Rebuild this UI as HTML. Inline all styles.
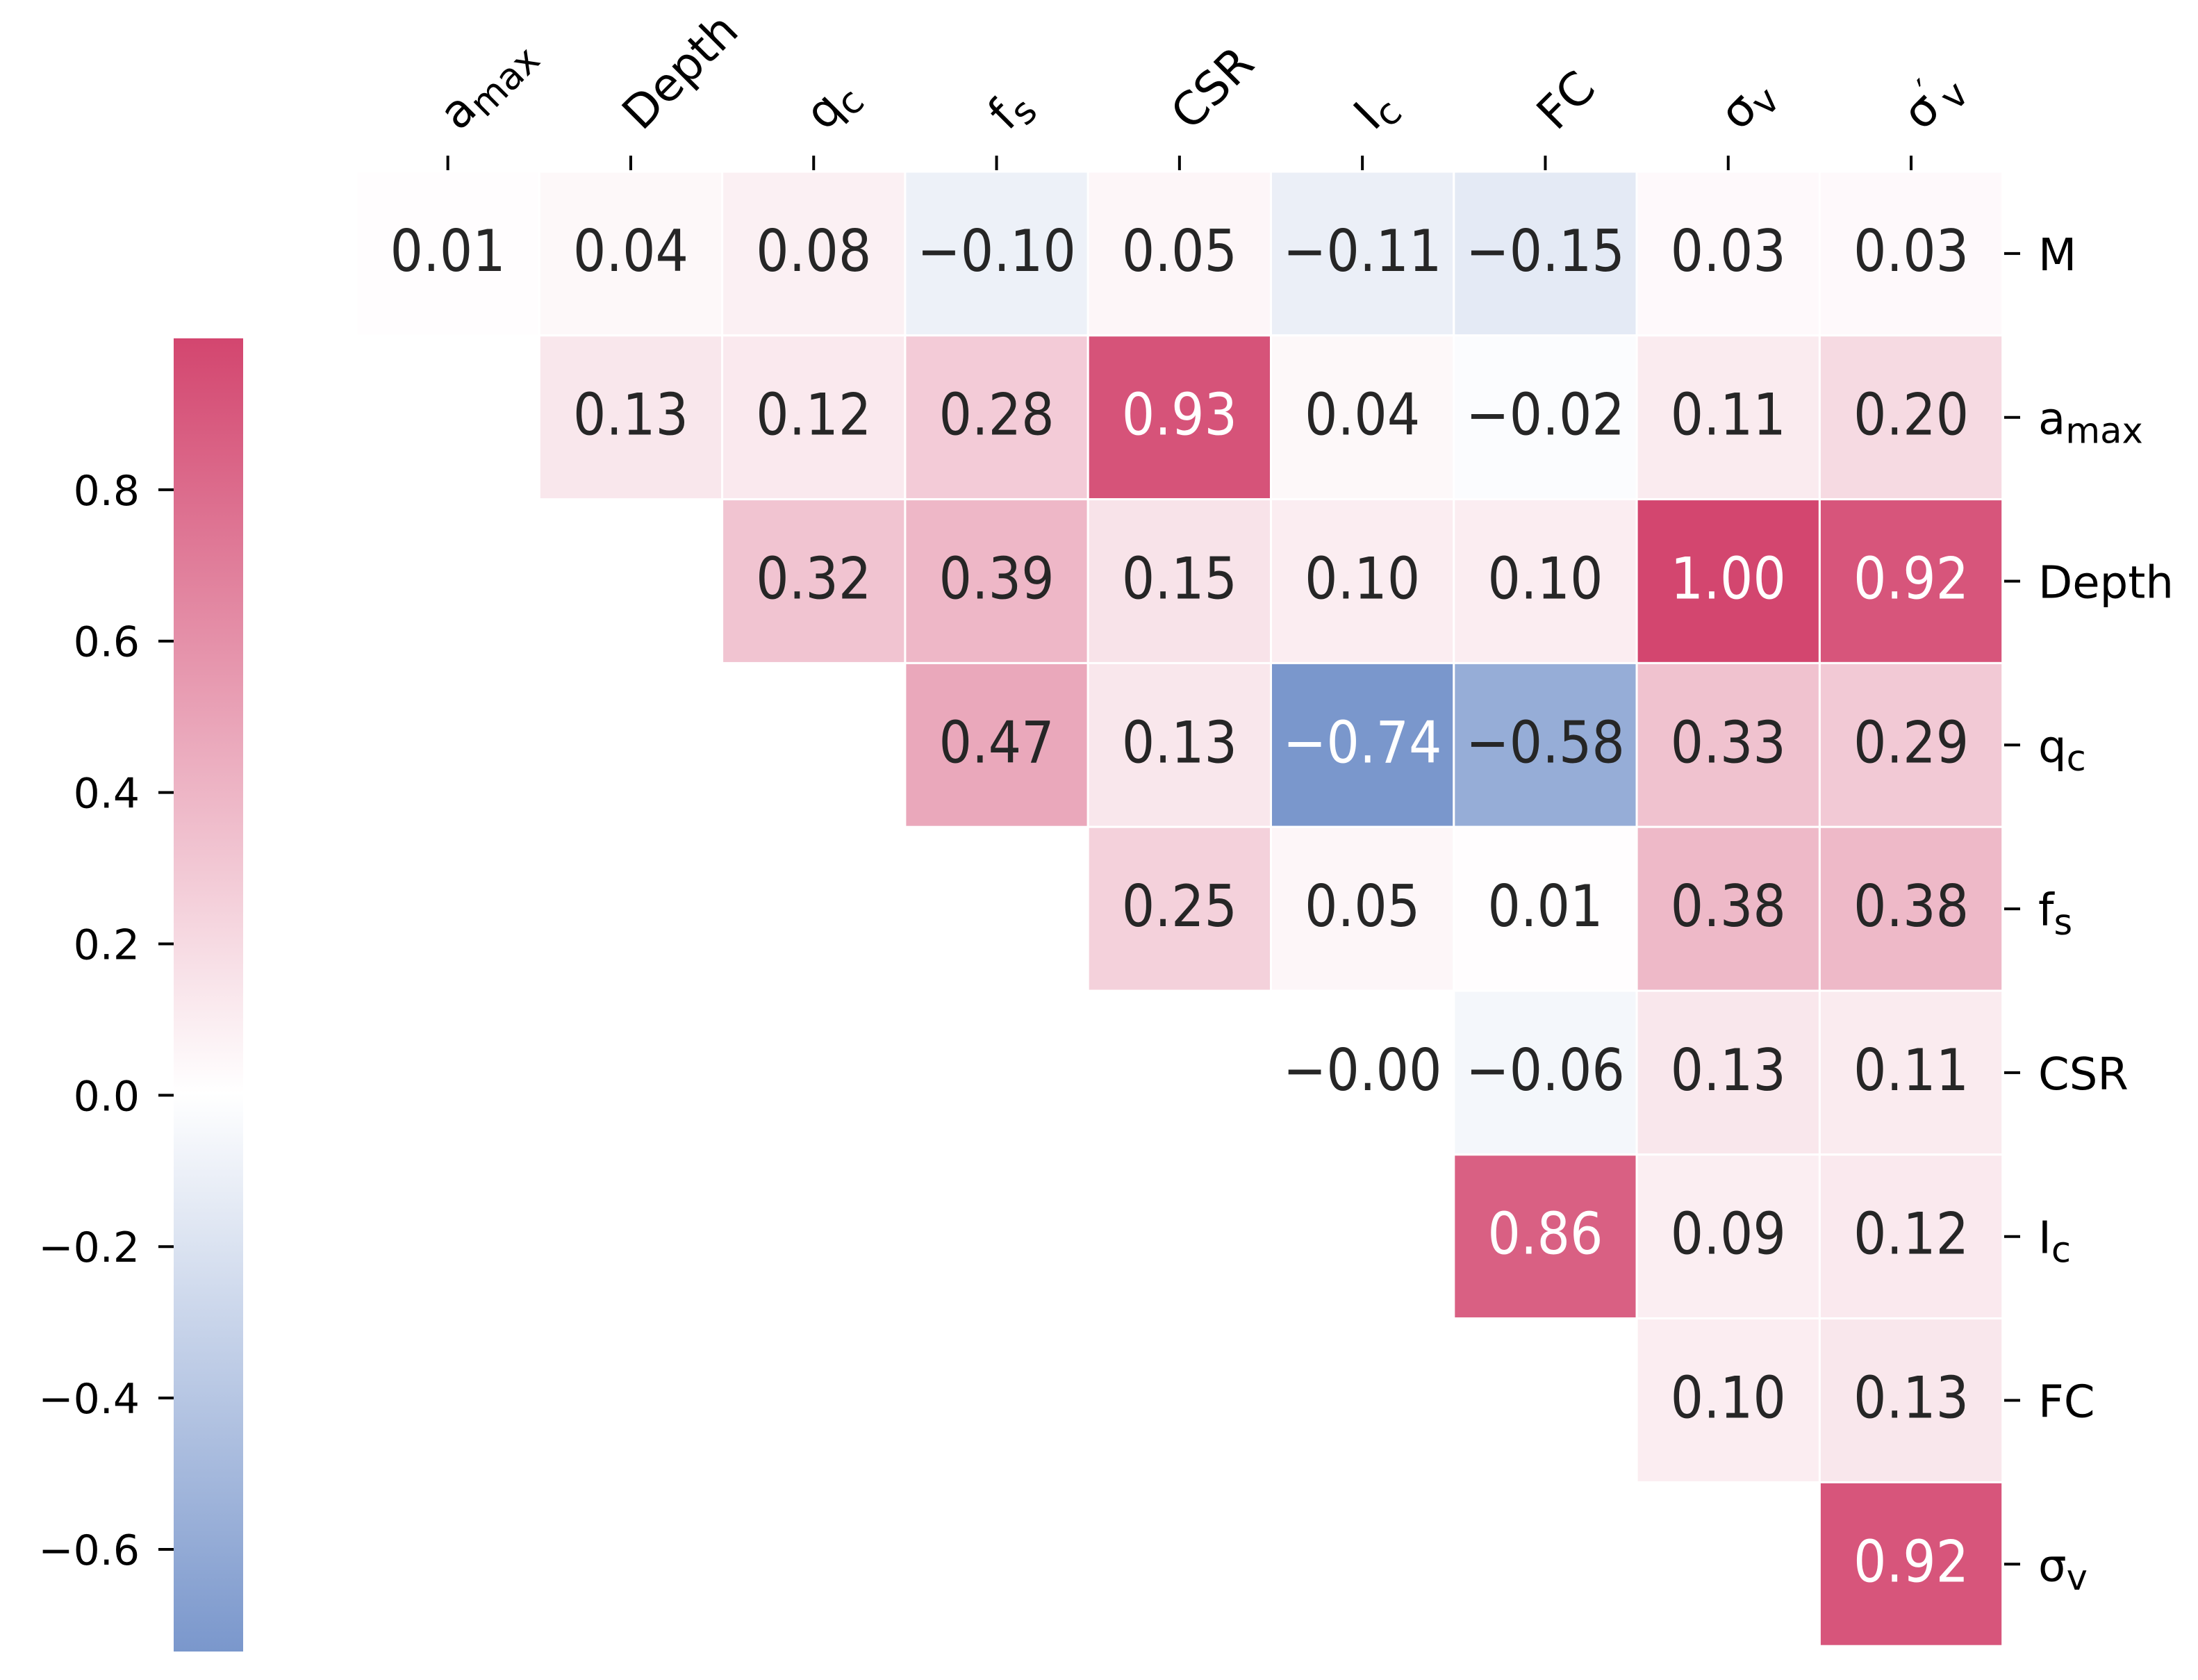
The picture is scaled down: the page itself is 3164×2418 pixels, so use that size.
<!DOCTYPE html>
<html><head><meta charset="utf-8"><style>
html,body{margin:0;padding:0;background:#fff;}
svg{display:block;font-family:"DejaVu Sans","Liberation Sans",sans-serif;}
.cv{font-family:"DejaVu Sans Condensed","DejaVu Sans","Liberation Sans",sans-serif;font-stretch:condensed;}
</style></head><body>
<svg id="chart" width="3164" height="2418" viewBox="0 0 3164 2418" xmlns="http://www.w3.org/2000/svg">
<defs>
<linearGradient id="cbgrad" x1="0" y1="0" x2="0" y2="1">
<stop offset="0" stop-color="#d3466f"/>
<stop offset="0.5747" stop-color="#ffffff"/>
<stop offset="1" stop-color="#7a97cc"/>
</linearGradient>
</defs>
<g id="cells"></g>
<g id="axes"></g>
<g id="cbar"></g>
</svg>
<script>
const colLabels = [["a","max",""],["Depth","",""],["q","c",""],["f","s",""],["CSR","",""],["I","c",""],["FC","",""],["σ","v",""],["σ","v","′"]];
const rowLabels = [["M","",""],["a","max",""],["Depth","",""],["q","c",""],["f","s",""],["CSR","",""],["I","c",""],["FC","",""],["σ","v",""]];
const row0 = [0.01,0.04,0.08,-0.10,0.05,-0.11,-0.15,0.03,0.03];
const row1 = [null,0.13,0.12,0.28,0.93,0.04,-0.02,0.11,0.20];
const row2 = [null,null,0.32,0.39,0.15,0.10,0.10,1.00,0.92];
const row3 = [null,null,null,0.47,0.13,-0.74,-0.58,0.33,0.29];
const row4 = [null,null,null,null,0.25,0.05,0.01,0.38,0.38];
const row5 = [null,null,null,null,null,-0.00,-0.06,0.13,0.11];
const row6 = [null,null,null,null,null,null,0.86,0.09,0.12];
const row7 = [null,null,null,null,null,null,null,0.10,0.13];
const row8 = [null,null,null,null,null,null,null,null,0.92];
const cbTicks = [0.8,0.6,0.4,0.2,0.0,-0.2,-0.4,-0.6];
const vmin = -0.735, vmax = 1.0;

const rows = [row0,row1,row2,row3,row4,row5,row6,row7,row8];
const NS = "http://www.w3.org/2000/svg";
const X0 = 513, CW = 263.3, Y0 = 247, RH = 235.8;
const xPos = j => X0 + j*CW;
const yPos = i => Y0 + i*RH;
const CB_X = 250, CB_W = 100, CB_TOP = 487, CB_BOT = 2377;
const cbY = v => CB_TOP + (vmax - v)/(vmax - vmin)*(CB_BOT - CB_TOP);

function mix(a,b,t){return Math.round(a+(b-a)*t);}
function color(v){
  if (v >= 0){const t=Math.min(v/vmax,1);return `rgb(${mix(255,211,t)},${mix(255,70,t)},${mix(255,111,t)})`;}
  const t=Math.min(v/vmin,1);return `rgb(${mix(255,122,t)},${mix(255,151,t)},${mix(255,204,t)})`;
}
function el(tag, attrs, parent){const e=document.createElementNS(NS,tag);for(const k in attrs)e.setAttribute(k,attrs[k]);parent.appendChild(e);return e;}
function fmt(v){const s=Math.abs(v).toFixed(2);return (v<0||Object.is(v,-0))?"\u2212"+s:s;}
function label(parent, lab, x, y, size, attrs){
  const t = el("text", Object.assign({x:x,y:y,"font-size":size,fill:"#000"}, attrs||{}), parent);
  t.appendChild(document.createTextNode(lab[0]));
  if (lab[2]){const p=el("tspan",{"font-size":size*0.8,dy:-size*0.3},t);p.textContent=lab[2];}
  if (lab[1]){const s=el("tspan",{"font-size":size*0.8,dy:(lab[2]?size*0.3:0)+size*0.2},t);s.textContent=lab[1];}
  return t;
}

const cells = document.getElementById("cells");
rows.forEach((r,i)=>{
  r.forEach((v,j)=>{
    if (v===null) return;
    const g = el("g",{},cells);
    
    
    el("rect",{x:xPos(j),y:yPos(i),width:CW,height:RH,fill:color(v),stroke:"#fff","stroke-width":3},g);
    const t = el("text",{class:"cv",x:xPos(j)+CW/2,y:yPos(i)+RH/2+25,"text-anchor":"middle","font-size":83,fill:(Math.abs(v)>0.7?"#ffffff":"#262626")},g);
    t.textContent = (i===5&&j===5)?"\u22120.00":fmt(v);
    
    
  });
});

const axes = document.getElementById("axes");
colLabels.forEach((lab,j)=>{
  const cx = xPos(j)+CW/2;
  const tk = el("line",{x1:cx,y1:224,x2:cx,y2:245,stroke:"#000","stroke-width":4},axes);
  
  
  const t = label(axes, lab, 0, 0, 66, {transform:`translate(${cx+16},190) rotate(-45)`});
  
  
});
rowLabels.forEach((lab,i)=>{
  const cy = yPos(i)+RH/2;
  const tk = el("line",{x1:2885,y1:cy,x2:2908,y2:cy,stroke:"#000","stroke-width":4},axes);
  
  
  const t = label(axes, lab, 2934, cy+24, 64);
  
  
});

const cbar = document.getElementById("cbar");
const cbr = el("rect",{x:CB_X,y:CB_TOP,width:CB_W,height:CB_BOT-CB_TOP,fill:"url(#cbgrad)"},cbar);


cbTicks.forEach(v=>{
  const y = cbY(v);
  const tk = el("line",{x1:228,y1:y,x2:250,y2:y,stroke:"#000","stroke-width":4},cbar);
  
  
  const t = el("text",{x:201,y:y+22,"text-anchor":"end","font-size":60,fill:"#000"},cbar);
  t.textContent = (v<0?"\u2212":"")+Math.abs(v).toFixed(1);
  
  
});
</script>
</body></html>
